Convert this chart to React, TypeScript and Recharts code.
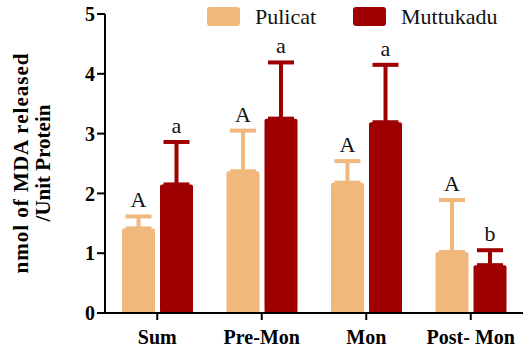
import React from 'react'
import { BarChart, Bar, XAxis, YAxis, ErrorBar, Legend, LabelList } from 'recharts'

const seasons = ['Sum', 'Pre-Mon', 'Mon', 'Post- Mon']
const pulicat = [1.415, 2.37, 2.18, 1.02]
const pulicatErr = [0.2, 0.68, 0.36, 0.87]
const pulicatLetters = ['A', 'A', 'A', 'A']
const muttukadu = [2.15, 3.25, 3.19, 0.8]
const muttukaduErr = [0.71, 0.94, 0.96, 0.25]
const muttukaduLetters = ['a', 'a', 'a', 'b']
const yTicks = [0, 1, 2, 3, 4, 5]

const PUL = '#F1B87E'
const MUT = '#9E0000'
const serif = "'Liberation Serif', 'Times New Roman', Times, serif"

const data = seasons.map((s, i) => ({
  season: s,
  pulicat: pulicat[i],
  pulicatErr: [0, pulicatErr[i]],
  pulicatLetter: pulicatLetters[i],
  muttukadu: muttukadu[i],
  muttukaduErr: [0, muttukaduErr[i]],
  muttukaduLetter: muttukaduLetters[i],
}))

// letter sits above the error-bar cap
const letterAbove = (values: number[], errs: number[]) => (props: any) => {
  const vb = props.viewBox || props
  const i = props.index
  const pxPerUnit = vb.height / values[i]
  const capY = vb.y - errs[i] * pxPerUnit
  return (
    <text x={vb.x + vb.width / 2} y={capY - 9} textAnchor="middle" fontFamily={serif} fontSize={22} fill="#111">
      {props.value}
    </text>
  )
}

const renderYLabel = () => (
  <text transform="translate(32,163) rotate(-90)" textAnchor="middle" fontFamily={serif} fontWeight="bold" fontSize={21} fill="#000">
    <tspan x={0} y={-4} letterSpacing={1}>nmol of MDA released</tspan>
    <tspan x={0} y={18}>/Unit Protein</tspan>
  </text>
)

const legendItems = [
  { name: 'Pulicat', color: PUL, x: 0 },
  { name: 'Muttukadu', color: MUT, x: 146 },
]

const renderLegend = () => (
  <svg width={310} height={32} style={{ display: 'block', overflow: 'visible' }}>
    {legendItems.map((it) => (
      <g key={it.name}>
        <rect x={it.x} y={1} width={33} height={19} rx={3} fill={it.color} />
        <text x={it.x + 48} y={18} fontFamily={serif} fontSize={22} fill="#111">{it.name}</text>
      </g>
    ))}
  </svg>
)

const App: React.FC = () => (
  <div style={{ position: 'absolute', left: 0, top: 0, width: 523, height: 353, background: '#fff' }}>
    <BarChart width={523} height={353} data={data} margin={{ top: 14, right: 0, bottom: 0, left: 0 }} barCategoryGap={17} barGap={5}>
      <XAxis
        dataKey="season"
        height={40}
        axisLine={{ stroke: '#000', strokeWidth: 2 }}
        tickLine={{ stroke: '#000', strokeWidth: 2 }}
        tickSize={7}
        tickMargin={10}
        tick={{ fill: '#000', fontFamily: serif, fontWeight: 'bold', fontSize: 20 }}
      />
      <YAxis
        width={105}
        domain={[0, 5]}
        ticks={yTicks}
        interval={0}
        axisLine={{ stroke: '#000', strokeWidth: 2 }}
        tickLine={{ stroke: '#000', strokeWidth: 2 }}
        tickSize={8}
        tickMargin={2}
        tick={{ fill: '#000', fontFamily: serif, fontWeight: 'bold', fontSize: 20 }}
        label={{ content: renderYLabel }}
      />
      <Legend layout="horizontal" verticalAlign="middle" align="center" content={renderLegend} wrapperStyle={{ top: 6, left: 207, width: 310 }} />
      <Bar dataKey="pulicat" fill={PUL} radius={2} isAnimationActive={false}>
        <ErrorBar dataKey="pulicatErr" direction="y" width={13} stroke={PUL} strokeWidth={4} />
        <LabelList dataKey="pulicatLetter" content={letterAbove(pulicat, pulicatErr)} />
      </Bar>
      <Bar dataKey="muttukadu" fill={MUT} radius={2} isAnimationActive={false}>
        <ErrorBar dataKey="muttukaduErr" direction="y" width={13} stroke={MUT} strokeWidth={4} />
        <LabelList dataKey="muttukaduLetter" content={letterAbove(muttukadu, muttukaduErr)} />
      </Bar>
    </BarChart>
  </div>
)

export default App
